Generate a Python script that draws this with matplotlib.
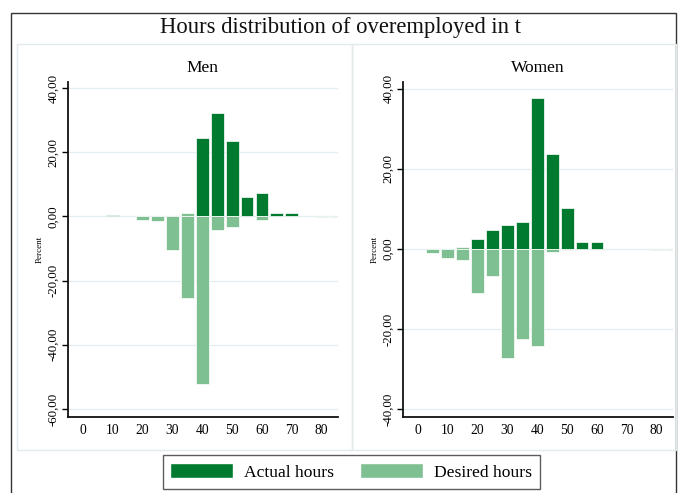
import matplotlib
matplotlib.use("Agg")
import matplotlib.pyplot as plt
from matplotlib.patches import Rectangle, Patch
import numpy as np

# Hour bins (centres, 5-hour classes)
bins = [0, 5, 10, 15, 20, 25, 30, 35, 40, 45, 50, 55, 60, 65, 70, 75, 80, 85]

# Percent of overemployed, men
men_actual = [0, 0, 0.3, 0, 0, 0, 0, 0, 24.5, 32.2, 23.6, 6.0, 7.3, 1.0, 1.0, 0, 0, 0]
men_desired = [0, 0, 0, 0, 1.2, 1.5, 10.4, 25.5, 52.1, 4.2, 3.3, 0, 1.0, 0, 0, 0, 0.2, 0.2]
men_desired_up = [0, 0, 0, 0, 0, 0, 0, 1.0, 0, 0, 0, 0, 0, 0, 0, 0, 0, 0]

# Percent of overemployed, women
women_actual = [0, 0, 0, 0, 2.5, 4.8, 6.0, 6.7, 37.7, 23.7, 10.2, 1.8, 1.7, 0, 0, 0, 0, 0]
women_desired = [0, 1.0, 2.1, 2.7, 11.0, 6.7, 27.1, 22.5, 24.2, 0.7, 0.3, 0, 0, 0, 0, 0, 0.2, 0.2]
women_desired_up = [0, 0, 0, 0.6, 0, 0, 0, 0, 0, 0, 0, 0, 0, 0, 0, 0, 0, 0]

men_yticks = [40, 20, 0, -20, -40, -60]
women_yticks = [40, 20, 0, -20, -40]
xticks = [0, 10, 20, 30, 40, 50, 60, 70, 80]

DARK = "#007a2f"
LIGHT = "#7fc093"
GRID = "#e3eef0"
PANEL = "#e2eaec"

plt.rcParams["font.family"] = ["Liberation Serif", "DejaVu Serif"]

W, H = 681, 493
fig = plt.figure(figsize=(W / 100, H / 100), dpi=100)


def fx(px):
    return px / W


def fy(py):
    return 1 - py / H


# outer frame
fig.add_artist(Rectangle((fx(11), fy(500)), fx(676) - fx(11), fy(13) - fy(500),
                         transform=fig.transFigure, fill=False,
                         edgecolor="#333333", lw=1.0))
# panel boxes
for l, r in [(17, 352), (352, 676)]:
    fig.add_artist(Rectangle((fx(l), fy(450)), fx(r) - fx(l), fy(44) - fy(450),
                             transform=fig.transFigure, fill=False,
                             edgecolor=PANEL, lw=1.0))

fig.text(fx(340), fy(27), "Hours distribution of overemployed in t",
         ha="center", va="center", fontsize=16.3, color="#111111")


def panel(left_px, ylim, yticks, actual, desired, desired_up, name, name_x):
    ax = fig.add_axes([fx(left_px), fy(417), fx(270), (417 - 82) / H])
    x = np.array(bins, dtype=float)
    a = np.array(actual)
    d = np.array(desired)
    u = np.array(desired_up)
    ax.bar(x[a > 0], a[a > 0], width=4.3, color=DARK, edgecolor="white",
           linewidth=0.5, zorder=3)
    ax.bar(x[d > 0], -d[d > 0], width=4.3, color=LIGHT, edgecolor="white",
           linewidth=0.5, zorder=3)
    ax.bar(x[u > 0], u[u > 0], width=4.3, color=LIGHT, edgecolor="white",
           linewidth=0.5, zorder=3)
    ax.set_xlim(-5, 85.5)
    ax.set_ylim(*ylim)
    ax.set_yticks(yticks)
    ax.set_yticklabels([f"{v:.2f}".replace(".", ",") for v in yticks],
                       rotation=90, va="center", fontsize=9.3)
    ax.set_xticks(xticks)
    ax.set_xticklabels([str(v) for v in xticks], fontsize=9.8)
    ax.tick_params(axis="x", length=0, pad=5)
    ax.tick_params(axis="y", length=4, width=1, pad=2)
    for s in ["top", "right"]:
        ax.spines[s].set_visible(False)
    for s in ["left", "bottom"]:
        ax.spines[s].set_linewidth(1.3)
        ax.spines[s].set_color("#111111")
    ax.yaxis.grid(True, color=GRID, lw=1.0, zorder=0)
    ax.set_axisbelow(True)
    ax.set_ylabel("Percent", fontsize=6.5, labelpad=3)
    fig.text(fx(name_x), fy(68), name, ha="center", va="center", fontsize=12.5)
    return ax


panel(68, (-62.5, 41.9), men_yticks, men_actual, men_desired, men_desired_up,
      "Men", 202)
panel(403, (-41.9, 41.7), women_yticks, women_actual, women_desired,
      women_desired_up, "Women", 538)

handles = [Patch(facecolor=DARK, edgecolor="white"),
           Patch(facecolor=LIGHT, edgecolor="white")]
leg = fig.legend(handles, ["Actual hours", "Desired hours"], ncol=2,
                 loc="center", bbox_to_anchor=(fx(351), fy(472)),
                 fontsize=12.6, handlelength=3.6, handleheight=0.9,
                 handletextpad=0.6, columnspacing=1.5, frameon=True,
                 fancybox=False, borderpad=0.45)
leg.get_frame().set_edgecolor("#333333")
leg.get_frame().set_linewidth(1.0)

fig.savefig("out.png", dpi=100)
